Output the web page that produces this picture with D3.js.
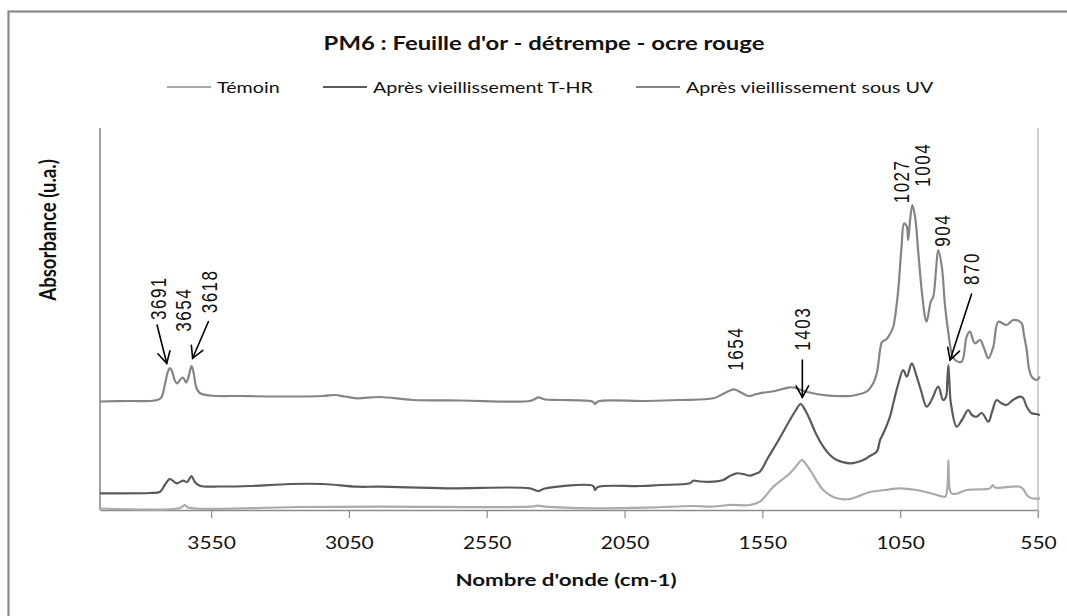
<!DOCTYPE html>
<html><head><meta charset="utf-8">
<script src="https://cdn.jsdelivr.net/npm/d3@7"></script>
<style>
body{margin:0;background:#fff}
svg{display:block}
.lbl{font-family:"Liberation Sans",Arial,sans-serif}
.cal{font-family:Lato,"Open Sans",sans-serif}
</style>
</head><body>
<svg id="chart" width="1067" height="616"></svg>
<script>
// ---------------- data ----------------
const chartTitle = "PM6 : Feuille d'or - détrempe - ocre rouge";
const xAxisTitle = "Nombre d'onde (cm-1)";
const yAxisTitle = "Absorbance (u.a.)";
const seriesNames = ["Témoin", "Après vieillissement T-HR", "Après vieillissement sous UV"];
const seriesColors = ["#aaaaaa", "#5a5a5a", "#858585"];
const xTickValues = [3550, 3050, 2550, 2050, 1550, 1050, 550];
const xDomain = [3953, 550];
const yDomain = [0, 3.82];

// [wavenumber (cm-1), absorbance (u.a.)]
const temoin = [[3953,0.015],[3663,0.02],[3645,0.05],[3634,0.025],[3228,0.03],[2938,0.033],[2393,0.033],[2363,0.043],[2339,0.033],[2157,0.017],[1958,0.025],[1802,0.04],[1729,0.035],[1668,0.05],[1595,0.05],[1559,0.083],[1510,0.233],[1450,0.367],[1424,0.45],[1407,0.50],[1395,0.47],[1377,0.40],[1329,0.20],[1280,0.117],[1232,0.11],[1160,0.18],[1105,0.20],[1051,0.217],[990,0.20],[942,0.17],[894,0.133],[886,0.135],[879,0.22],[875,0.50],[871,0.22],[865,0.17],[851,0.16],[809,0.20],[779,0.205],[724,0.217],[714,0.25],[706,0.225],[615,0.233],[601,0.20],[591,0.15],[573,0.117],[543,0.117]];

const tHR = [[3953,0.167],[3772,0.17],[3736,0.18],[3718,0.25],[3700,0.31],[3681,0.275],[3673,0.267],[3652,0.293],[3637,0.28],[3621,0.34],[3609,0.28],[3591,0.243],[3518,0.235],[3409,0.24],[3264,0.26],[3144,0.26],[3022,0.233],[2938,0.233],[2695,0.217],[2393,0.217],[2363,0.19],[2339,0.215],[2164,0.24],[2157,0.20],[2147,0.23],[1994,0.24],[1922,0.25],[1813,0.267],[1801,0.293],[1776,0.285],[1728,0.283],[1692,0.30],[1668,0.34],[1643,0.367],[1620,0.36],[1595,0.343],[1577,0.36],[1559,0.383],[1530,0.52],[1498,0.667],[1450,0.90],[1428,1.00],[1411,1.06],[1395,1.00],[1377,0.90],[1355,0.76],[1329,0.633],[1305,0.55],[1280,0.50],[1232,0.467],[1184,0.50],[1160,0.54],[1135,0.583],[1123,0.70],[1111,0.767],[1087,0.933],[1075,1.067],[1058,1.25],[1039,1.40],[1026,1.333],[1008,1.467],[990,1.333],[975,1.20],[954,1.033],[936,1.10],[912,1.233],[894,1.10],[884,1.13],[879,1.30],[875,1.45],[871,1.25],[866,1.067],[845,0.833],[826,0.90],[803,1.00],[790,0.95],[772,0.933],[754,0.97],[730,0.883],[717,0.98],[700,1.10],[684,1.07],[664,1.05],[641,1.10],[615,1.133],[604,1.12],[591,1.033],[573,0.967],[557,0.96],[543,0.95]];

const uv = [[3953,1.085],[3845,1.09],[3754,1.095],[3732,1.12],[3718,1.25],[3707,1.38],[3700,1.42],[3692,1.39],[3681,1.29],[3673,1.267],[3663,1.30],[3652,1.325],[3640,1.275],[3631,1.34],[3621,1.44],[3614,1.38],[3603,1.22],[3591,1.17],[3554,1.145],[3446,1.14],[3300,1.135],[3144,1.14],[3101,1.15],[3065,1.135],[3021,1.117],[2938,1.13],[2818,1.10],[2647,1.095],[2393,1.09],[2375,1.11],[2363,1.127],[2339,1.105],[2284,1.10],[2165,1.083],[2157,1.06],[2147,1.085],[1970,1.09],[1849,1.10],[1728,1.117],[1693,1.16],[1653,1.207],[1624,1.17],[1601,1.14],[1577,1.155],[1547,1.173],[1504,1.19],[1450,1.227],[1428,1.22],[1402,1.193],[1370,1.17],[1329,1.15],[1287,1.14],[1232,1.14],[1203,1.155],[1172,1.183],[1148,1.267],[1134,1.38],[1123,1.60],[1116,1.68],[1099,1.71],[1087,1.76],[1075,1.833],[1063,2.05],[1057,2.20],[1045,2.633],[1036,2.867],[1026,2.833],[1021,2.70],[1014,2.90],[1006,3.05],[996,2.933],[984,2.567],[972,2.20],[960,1.933],[954,1.883],[939,2.083],[930,2.133],[920,2.40],[912,2.60],[899,2.433],[887,2.033],[875,1.767],[863,1.567],[851,1.50],[827,1.483],[809,1.733],[797,1.783],[779,1.667],[760,1.70],[746,1.62],[730,1.517],[712,1.633],[694,1.883],[664,1.85],[640,1.90],[623,1.895],[609,1.867],[601,1.75],[591,1.60],[583,1.42],[573,1.333],[555,1.30],[543,1.333]];

// peak annotations: label text, wavenumber of the label, absorbance where the label starts
const peakLabels = [
  {text:"3691", wn:3742, a:1.90},
  {text:"3654", wn:3651, a:1.783},
  {text:"3618", wn:3558, a:1.967},
  {text:"1654", wn:1649, a:1.393},
  {text:"1403", wn:1405, a:1.593},
  {text:"1027", wn:1048, a:3.067},
  {text:"1004", wn:970,  a:3.233},
  {text:"904",  wn:896,  a:2.633},
  {text:"870",  wn:791,  a:2.25}
];
// arrows: [wavenumber, absorbance] from -> to
const arrows = [
  {from:[3746,1.85],  to:[3711,1.467]},
  {from:[3560,1.883], to:[3617,1.517]},
  {from:[1405,1.50],  to:[1405,1.127]},
  {from:[791,2.16],   to:[869,1.50]}
];

// ---------------- drawing ----------------
const svg = d3.select("#chart");
const plot = {left:100, right:1038, top:128, bottom:510};
const SX = 1.27; // the source picture is stretched horizontally

const x = d3.scaleLinear().domain(xDomain).range([plot.left, plot.right]);
const y = d3.scaleLinear().domain(yDomain).range([plot.bottom, plot.top]);

// outer chart border
svg.append("rect").attr("x",8.5).attr("y",11.5).attr("width",1120).attr("height",700)
  .attr("fill","none").attr("stroke","#8a8a8a").attr("stroke-width",2.2);

// title
svg.append("text").attr("class","cal").attr("transform",`translate(544,50) scale(${SX},1)`)
  .attr("text-anchor","middle").attr("font-size",18.8).attr("font-weight","bold")
  .attr("fill","#111").text(chartTitle);

// legend
const legendItems = [
  {name:seriesNames[0], color:seriesColors[0], x:167},
  {name:seriesNames[1], color:seriesColors[1], x:323},
  {name:seriesNames[2], color:seriesColors[2], x:636}
];
const lg = svg.append("g").attr("transform","translate(0,87)");
legendItems.forEach(d=>{
  lg.append("line").attr("x1",d.x).attr("x2",d.x+44).attr("y1",0).attr("y2",0)
    .attr("stroke",d.color).attr("stroke-width",2.2);
  lg.append("text").attr("class","cal").attr("transform",`translate(${d.x+50},5.5) scale(${SX},1)`)
    .attr("font-size",15.5).attr("fill","#111").text(d.name);
});

// axes
const xAxis = d3.axisBottom(x).tickValues(xTickValues).tickSize(8).tickSizeOuter(0).tickPadding(19)
  .tickFormat(d3.format("d"));
const gx = svg.append("g").attr("transform",`translate(0,${plot.bottom})`).call(xAxis);
gx.select(".domain").attr("stroke","#8c8c8c").attr("stroke-width",1.6);
gx.selectAll(".tick line").attr("stroke","#8c8c8c").attr("stroke-width",1.2);
gx.selectAll(".tick text").attr("class","cal").attr("font-size",16.5).attr("fill","#111")
  .attr("transform",`scale(${SX},1)`);

svg.append("line").attr("x1",plot.left).attr("x2",plot.left).attr("y1",plot.top).attr("y2",plot.bottom)
  .attr("stroke","#8c8c8c").attr("stroke-width",1.6);
svg.append("line").attr("x1",plot.right).attr("x2",plot.right).attr("y1",plot.top).attr("y2",plot.bottom+8)
  .attr("stroke","#b0b0b0").attr("stroke-width",1.2);

// axis titles
svg.append("text").attr("class","cal").attr("transform",`translate(566,586) scale(${SX},1)`)
  .attr("text-anchor","middle").attr("font-size",17.6).attr("font-weight","bold")
  .attr("fill","#111").text(xAxisTitle);
svg.append("text").attr("class","cal")
  .attr("transform",`translate(48,230) scale(${SX},1) rotate(-90)`).attr("dy","0.35em")
  .attr("text-anchor","middle").attr("font-size",18.6).attr("font-weight","bold")
  .attr("fill","#111").text(yAxisTitle);

// series
const line = d3.line().x(d=>x(d[0])).y(d=>y(d[1])).curve(d3.curveCatmullRom.alpha(0.5));
[temoin, tHR, uv].forEach((s,i)=>{
  svg.append("path").datum(s).attr("d",line).attr("fill","none")
    .attr("stroke",seriesColors[i]).attr("stroke-width",2.2).attr("stroke-linejoin","round");
});

// peak labels
peakLabels.forEach(p=>{
  svg.append("text").attr("class","lbl")
    .attr("transform",`translate(${x(p.wn)},${y(p.a)}) scale(${SX},1) rotate(-90)`)
    .attr("dy","0.36em").attr("font-size",17).attr("letter-spacing",1.5)
    .attr("fill","#111").text(p.text);
});

// arrows
const ag = svg.append("g").attr("stroke","#000").attr("stroke-width",1.6).attr("fill","none")
  .attr("stroke-linecap","round");
arrows.forEach(a=>{
  const x1=x(a.from[0]), y1=y(a.from[1]), x2=x(a.to[0]), y2=y(a.to[1]);
  ag.append("line").attr("x1",x1).attr("y1",y1).attr("x2",x2).attr("y2",y2);
  const ang = Math.atan2(y1-y2, x1-x2), L=13, sp=0.5;
  const pts = [ang-sp, ang+sp].map(t=>[x2+L*Math.cos(t), y2+L*Math.sin(t)]);
  ag.append("path").attr("d",`M${pts[0][0]},${pts[0][1]}L${x2},${y2}L${pts[1][0]},${pts[1][1]}`);
});
</script>
</body></html>
